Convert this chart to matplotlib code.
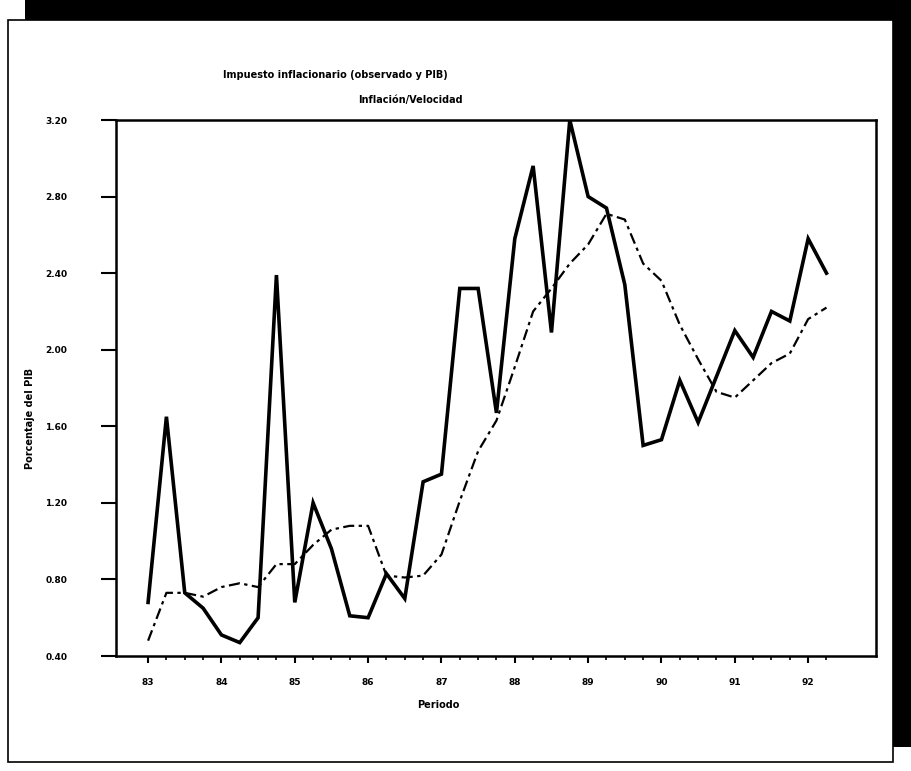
import numpy as np
import matplotlib
matplotlib.use("Agg")
import matplotlib.pyplot as plt
from matplotlib.patches import Rectangle

# quarterly periods, labels once per year
periodo = np.arange(38)
anios = ['83', '84', '85', '86', '87', '88', '89', '90', '91', '92']

# observed series (thick solid)
observado = [0.68, 1.65, 0.73, 0.65, 0.51, 0.47, 0.60, 2.39, 0.68, 1.20,
             0.96, 0.61, 0.60, 0.83, 0.70, 1.31, 1.35, 2.32, 2.32, 1.67,
             2.58, 2.96, 2.09, 3.20, 2.80, 2.74, 2.34, 1.50, 1.53, 1.84,
             1.62, 1.86, 2.10, 1.96, 2.20, 2.15, 2.58, 2.40]

# fitted series (dash-dot)
estimado = [0.48, 0.73, 0.73, 0.71, 0.76, 0.78, 0.76, 0.88, 0.88, 0.98,
            1.06, 1.08, 1.08, 0.82, 0.81, 0.82, 0.93, 1.21, 1.47, 1.63,
            1.91, 2.20, 2.32, 2.45, 2.55, 2.71, 2.68, 2.45, 2.36, 2.13,
            1.95, 1.78, 1.75, 1.84, 1.93, 1.98, 2.16, 2.22]

y_ticks = [0.40, 0.80, 1.20, 1.60, 2.00, 2.40, 2.80, 3.20]

fig = plt.figure(figsize=(9.12, 7.71), dpi=100)
fig.patch.set_facecolor('white')

# the scanned page: black shadow behind a white framed panel
W, H = 912, 771
fig.patches.append(Rectangle((25 / W, (H - 747) / H), (912 - 25) / W, 747 / H,
                             transform=fig.transFigure, facecolor='black',
                             edgecolor='none', zorder=0))
fig.patches.append(Rectangle((8 / W, (H - 762) / H), (893 - 8) / W, (762 - 20) / H,
                             transform=fig.transFigure, facecolor='white',
                             edgecolor='black', linewidth=1.2, zorder=1))

ax = fig.add_axes([116 / W, (H - 656) / H, 760 / W, 536 / H])
ax.set_zorder(3)
ax.set_facecolor('white')

ax.plot(periodo, observado, color='black', linewidth=2.6, solid_joinstyle='miter')
ax.plot(periodo, estimado, color='black', linewidth=1.6,
        linestyle=(0, (5, 2, 1.5, 2)))

ax.set_xlim(-1.75, 39.7)
ax.set_ylim(0.40, 3.20)

ax.set_xticks(periodo[::4])
ax.set_xticklabels(anios, fontsize=6.5, fontweight='bold')
ax.set_xticks(periodo, minor=True)
ax.set_yticks(y_ticks)
ax.set_yticklabels([f"{v:.2f}" for v in y_ticks], fontsize=6.5, fontweight='bold')
ax.tick_params(axis='y', direction='out', length=11, width=1.5, pad=24)
ax.tick_params(axis='x', which='major', direction='out', length=5, width=1.5, pad=10.5)
ax.tick_params(axis='x', which='minor', direction='out', length=3, width=1.2)
for s in ax.spines.values():
    s.set_linewidth(1.8)

# x label sits left of the axes centre in the original
fig.text(438 / W, 1 - 705 / H, 'Periodo', fontsize=7, fontweight='bold',
         ha='center', va='center', zorder=4)
fig.text(30 / W, 1 - 418 / H, 'Porcentaje del PIB', rotation=90, fontsize=7,
         fontweight='bold', ha='center', va='center', zorder=4)

fig.text(335 / W, 1 - 75 / H, 'Impuesto inflacionario (observado y PIB)',
         fontsize=7, fontweight='bold', ha='center', va='center', zorder=4)
fig.text(410 / W, 1 - 100 / H, 'Inflación/Velocidad',
         fontsize=7, fontweight='bold', ha='center', va='center', zorder=4)

plt.savefig('out.png', dpi=100)
